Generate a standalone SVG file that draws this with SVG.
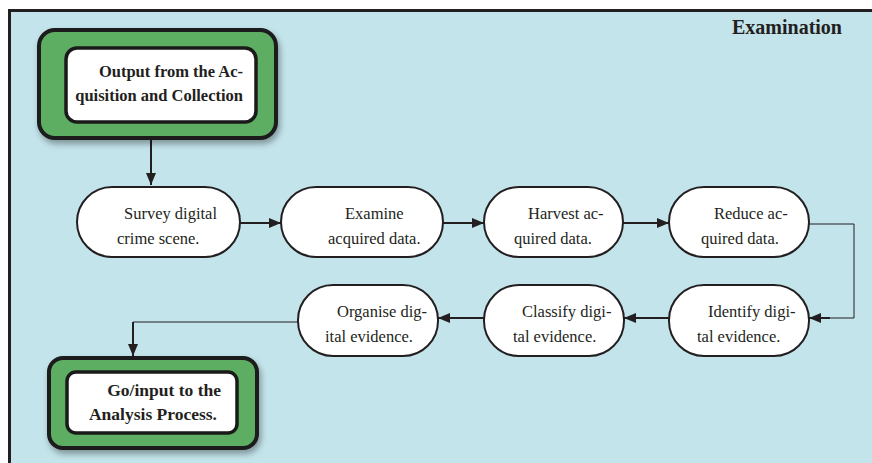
<svg xmlns="http://www.w3.org/2000/svg" width="872" height="463" viewBox="0 0 872 463">
  <defs>
    <marker id="arrow" markerWidth="12" markerHeight="10" refX="12" refY="5" orient="auto" markerUnits="userSpaceOnUse">
      <path d="M0,0 L12,5 L0,10 Z" fill="#231f20"/>
    </marker>
    <filter id="shadow" x="-10%" y="-10%" width="125%" height="135%">
      <feDropShadow dx="2" dy="4" stdDeviation="3" flood-color="#000" flood-opacity="0.35"/>
    </filter>
  </defs>
  <style>
    .panel { fill: #c3e4eb; }
    .frame { stroke: #231f20; stroke-width: 3; fill: none; }
    .step { fill: #ffffff; stroke: #231f20; stroke-width: 2; }
    .outer { fill: #5dae64; stroke: #1a1a1a; stroke-width: 4; }
    .inner { fill: #ffffff; stroke: #1a1a1a; stroke-width: 3.5; }
    .label { font-family: "Liberation Serif", "Times New Roman", serif; font-size: 16.5px; fill: #231f20; }
    .bold { font-family: "Liberation Serif", "Times New Roman", serif; font-weight: bold; font-size: 16.5px; fill: #231f20; }
    .bold-wide { font-family: "Liberation Serif", "Times New Roman", serif; font-weight: bold; font-size: 17.5px; fill: #231f20; }
    .title { font-family: "Liberation Serif", "Times New Roman", serif; font-weight: bold; font-size: 20px; fill: #231f20; }
    .thick { stroke: #231f20; stroke-width: 2; fill: none; }
    .thin { stroke: #231f20; stroke-width: 1; fill: none; }
  </style>

  <!-- page background and panel -->
  <rect x="0" y="0" width="872" height="463" fill="#ffffff"/>
  <rect class="panel" x="10" y="11" width="862" height="452"/>
  <path class="frame" d="M9.5,463 L9.5,10.5 L872,10.5"/>
  <text class="title" x="842" y="34" text-anchor="end">Examination</text>

  <!-- connectors -->
  <g id="connectors">
    <line class="thick" x1="151" y1="138" x2="151" y2="185" marker-end="url(#arrow)"/>
    <line class="thick" x1="240" y1="223" x2="281" y2="223" marker-end="url(#arrow)"/>
    <line class="thick" x1="443" y1="223" x2="484" y2="223" marker-end="url(#arrow)"/>
    <line class="thick" x1="623" y1="223" x2="669" y2="223" marker-end="url(#arrow)"/>
    <path class="thin" d="M809,224 L854,224 L854,318 L822,318"/>
    <line class="thick" x1="830" y1="318" x2="809" y2="318" marker-end="url(#arrow)"/>
    <line class="thick" x1="669" y1="318" x2="624" y2="318" marker-end="url(#arrow)"/>
    <line class="thick" x1="484" y1="318" x2="438" y2="318" marker-end="url(#arrow)"/>
    <path class="thin" d="M298,322 L133,322 L133,330"/>
    <line class="thick" x1="133" y1="322" x2="133" y2="356" marker-end="url(#arrow)"/>
  </g>

  <!-- source box -->
  <g id="acquisition-output">
    <rect class="outer" x="39" y="30" width="237" height="108" rx="16" filter="url(#shadow)"/>
    <rect class="inner" x="66" y="48" width="190" height="74" rx="11"/>
    <text class="bold" x="243" y="77" text-anchor="end">Output from the Ac-</text>
    <text class="bold" x="243" y="101" text-anchor="end">quisition and Collection</text>
  </g>

  <!-- first row of steps -->
  <g id="survey">
    <rect class="step" x="77" y="187" width="163" height="70" rx="35"/>
    <text class="label" x="124" y="219">Survey digital</text>
    <text class="label" x="117" y="244">crime scene.</text>
  </g>
  <g id="examine">
    <rect class="step" x="281" y="187" width="162" height="70" rx="35"/>
    <text class="label" x="345" y="219">Examine</text>
    <text class="label" x="328" y="244">acquired data.</text>
  </g>
  <g id="harvest">
    <rect class="step" x="484" y="187" width="139" height="70" rx="35"/>
    <text class="label" x="528" y="219">Harvest ac-</text>
    <text class="label" x="514" y="244">quired data.</text>
  </g>
  <g id="reduce">
    <rect class="step" x="669" y="187" width="140" height="70" rx="35"/>
    <text class="label" x="714" y="219">Reduce ac-</text>
    <text class="label" x="701" y="244">quired data.</text>
  </g>

  <!-- second row of steps -->
  <g id="identify">
    <rect class="step" x="669" y="285" width="140" height="71" rx="35"/>
    <text class="label" x="708" y="317">Identify digi-</text>
    <text class="label" x="697" y="342">tal evidence.</text>
  </g>
  <g id="classify">
    <rect class="step" x="484" y="285" width="140" height="71" rx="35"/>
    <text class="label" x="522" y="317">Classify digi-</text>
    <text class="label" x="513" y="342">tal evidence.</text>
  </g>
  <g id="organise">
    <rect class="step" x="298" y="285" width="140" height="71" rx="35"/>
    <text class="label" x="337" y="317">Organise dig-</text>
    <text class="label" x="325" y="342">ital evidence.</text>
  </g>

  <!-- destination box -->
  <g id="analysis-input">
    <rect class="outer" x="49" y="358" width="208" height="90" rx="14" filter="url(#shadow)"/>
    <rect class="inner" x="67" y="372" width="170" height="61" rx="9"/>
    <text class="bold-wide" x="221" y="396" text-anchor="end">Go/input to the</text>
    <text class="bold-wide" x="217" y="420" text-anchor="end">Analysis Process.</text>
  </g>
</svg>
